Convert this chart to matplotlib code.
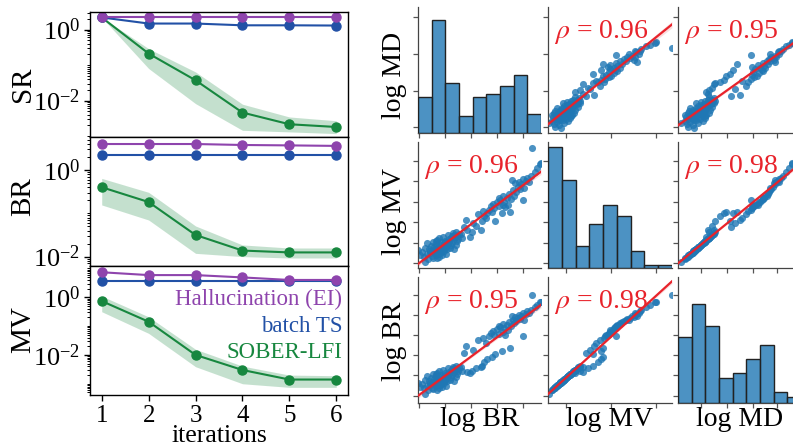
import numpy as np
import matplotlib
matplotlib.use("Agg")
import matplotlib.pyplot as plt
from matplotlib.ticker import LogLocator, NullFormatter, LogFormatterSciNotation

plt.rcParams['font.family'] = ['Liberation Serif', 'DejaVu Serif']
plt.rcParams['mathtext.fontset'] = 'stix'

# ---------------- data: left convergence panels ----------------
iterations = [1, 2, 3, 4, 5, 6]
methods = ['Hallucination (EI)', 'batch TS', 'SOBER-LFI']
method_colors = ['#8E44AD', '#2251A6', '#17873F']

sr_halluc = [2.2, 2.2, 2.2, 2.2, 2.2, 2.2]
sr_ts = [2.2, 1.48, 1.48, 1.32, 1.32, 1.30]
sr_sober = [2.2, 0.211, 0.0373, 0.00459, 0.00215, 0.0018]
sr_sober_lo = [2.2, 0.08, 0.0082, 0.00145, 0.00131, 0.00117]
sr_sober_hi = [2.2, 0.29, 0.064, 0.0079, 0.00345, 0.0027]

br_halluc = [3.98, 3.98, 3.98, 3.78, 3.7, 3.6]
br_ts = [2.22, 2.22, 2.22, 2.22, 2.22, 2.22]
br_sober = [0.40, 0.182, 0.0316, 0.0138, 0.0125, 0.0125]
br_sober_lo = [0.156, 0.070, 0.0119, 0.010, 0.0093, 0.0093]
br_sober_hi = [0.64, 0.305, 0.051, 0.0186, 0.0158, 0.0158]

mv_halluc = [7.4, 5.9, 5.9, 4.9, 4.0, 4.0]
mv_ts = [3.77, 3.77, 3.77, 3.77, 3.77, 3.77]
mv_sober = [0.74, 0.142, 0.010, 0.0030, 0.0014, 0.0014]
mv_sober_lo = [0.316, 0.056, 0.0039, 0.0010, 0.00075, 0.00075]
mv_sober_hi = [1.1, 0.21, 0.0157, 0.0041, 0.0020, 0.0019]

panel_names = ['SR', 'BR', 'MV']

# ---------------- data: pair plot (arbitrary log units) ----------------
log_br = [0.0, 0.15, 0.3, 0.45, 0.55, 0.6, 0.7, 0.76, 0.85, 0.9, 1.0, 1.05, 1.1, 1.15, 1.2, 1.25,
          1.3, 1.35, 1.4, 1.44, 1.5, 1.52, 1.55, 1.57, 1.6, 1.65, 1.7, 1.72, 1.75, 1.8, 1.84, 1.88,
          1.9, 1.95, 2.0, 2.05, 2.1, 2.12, 2.15, 2.2, 2.25, 2.3, 2.35, 2.4, 2.45, 2.5, 2.55, 2.6,
          2.65, 2.7, 2.75, 2.8, 2.85, 2.9, 2.92, 2.95, 3.0, 3.05, 3.1, 3.15, 3.2, 3.25, 3.3, 3.47,
          3.6, 1.3, 1.6, 1.78, 2.0, 1.45, 0.95, 2.28,
          3.7, 3.88, 4.0, 4.2, 4.4, 4.5, 4.7, 4.9, 5.1, 5.2, 5.3, 5.4, 5.5, 5.6, 5.75, 5.9, 6.0,
          6.1, 6.2, 6.3, 6.45, 6.55, 6.6, 6.7, 6.8, 6.9, 6.95, 7.0, 7.1, 7.2, 7.3, 7.4, 7.5, 7.55,
          7.67, 7.75, 7.8, 7.9, 8.0, 8.1, 8.2, 8.3, 8.4, 8.5, 8.55, 8.65, 8.8, 8.9, 9.0, 9.16,
          9.3, 9.5, 9.7, 9.9, 10.0]
log_mv = [1.07, 0.60, 0.9, 0.45, 1.25, 0.05, 0.7, 1.65, 0.3, 1.2, 0.78, 1.45, 0.55, 1.0, 1.8, 0.4,
          1.37, 0.85, 1.15, 0.64, 1.6, 0.35, 1.0, 1.95, 0.75, 1.3, 2.1, 0.5, 1.1, 1.5, 1.07, 0.9,
          1.75, 0.6, 1.3, 2.2, 1.65, 0.95, 1.45, 1.9, 1.37, 0.7, 1.15, 2.4, 1.6, 1.8, 2.0, 1.25,
          2.1, 1.5, 2.3, 1.7, 2.55, 2.4, 1.2, 2.0, 2.2, 1.55, 2.6, 1.85, 2.3, 2.05, 2.45, 2.5,
          2.15, 0.95, 1.2, 0.8, 1.05, 1.85, 1.0, 1.75,
          3.1, 3.7, 2.8, 2.2, 2.6, 3.4, 3.2, 4.2, 2.8, 3.6, 4.5, 4.0, 3.9, 4.3, 4.6, 4.9, 4.4,
          5.1, 4.7, 3.6, 5.3, 4.9, 5.6, 5.4, 4.3, 5.0, 5.8, 5.3, 4.8, 5.6, 5.0, 6.0, 4.4, 5.5,
          7.2, 6.3, 5.8, 6.9, 6.1, 6.6, 7.0, 6.4, 6.8, 5.45, 7.3, 6.5, 7.1, 7.4, 7.0, 7.5,
          10.0, 7.9, 8.2, 8.6, 8.7]
log_md = [1.30, 0.85, 1.2, 0.75, 1.6, 0.25, 1.0, 2.0, 0.55, 1.5, 1.1, 1.8, 0.8, 1.3, 2.2, 0.65,
          1.7, 1.2, 1.5, 0.95, 1.95, 0.6, 1.35, 2.3, 1.05, 1.65, 2.5, 0.8, 1.4, 1.85, 1.35, 1.2,
          2.1, 0.9, 1.6, 2.6, 2.0, 1.25, 1.8, 2.25, 1.7, 1.0, 1.5, 2.8, 1.95, 2.2, 2.4, 1.6,
          2.5, 1.85, 2.7, 2.1, 2.9, 2.8, 1.5, 2.35, 2.6, 1.9, 3.0, 2.2, 2.7, 2.45, 2.85, 2.9,
          2.5, 1.25, 1.55, 1.1, 1.4, 2.2, 1.3, 2.1,
          4.3, 5.0, 2.4, 2.3, 2.5, 4.6, 2.8, 5.5, 2.9, 3.0, 5.7, 3.4, 5.2, 3.7, 5.9, 6.2, 3.9,
          6.4, 6.0, 4.2, 6.6, 6.1, 6.9, 6.8, 4.5, 6.3, 7.1, 6.7, 6.0, 7.0, 6.5, 7.3, 4.8, 6.9,
          7.9, 7.5, 7.2, 7.8, 7.4, 7.7, 8.0, 7.6, 7.9, 5.9, 8.2, 7.5, 8.1, 8.4, 8.2, 8.5,
          10.0, 8.8, 9.0, 9.3, 9.3]

hist_br = [13, 41, 18, 6, 13, 14, 17, 21, 7]
hist_mv = [44, 32, 8, 16, 23, 19, 6, 1, 1]
hist_md = [24, 36, 28, 9, 11, 16, 21, 4, 2]

rho_values = {(0, 1): 0.96, (1, 0): 0.96, (0, 2): 0.95, (2, 0): 0.95, (1, 2): 0.98, (2, 1): 0.98}
col_labels = ['log BR', 'log MV', 'log MD']
row_labels = ['log MD', 'log MV', 'log BR']

# ---------------- figure ----------------
W, H = 793, 448
fig = plt.figure(figsize=(W / 100, H / 100), dpi=100)


def px_axes(x0, y0, x1, y1):
    return fig.add_axes([x0 / W, 1 - y1 / H, (x1 - x0) / W, (y1 - y0) / H])


left_boxes = [(90, 12, 348, 137), (90, 137, 348, 266), (90, 266, 348, 395)]
left_ylims = [(9.4e-4, 3.13), (0.00607, 5.78), (4.07e-4, 12.2)]
left_label_y = [0.424, 0.539, 0.504]
series = [
    (sr_halluc, sr_ts, sr_sober, sr_sober_lo, sr_sober_hi),
    (br_halluc, br_ts, br_sober, br_sober_lo, br_sober_hi),
    (mv_halluc, mv_ts, mv_sober, mv_sober_lo, mv_sober_hi),
]

for k, (box, ylim, name, data) in enumerate(zip(left_boxes, left_ylims, panel_names, series)):
    ax = px_axes(*box)
    hal, ts, sob, lo, hi = data
    ax.fill_between(iterations, lo, hi, color=method_colors[2], alpha=0.25, lw=0)
    ax.plot(iterations, sob, '-o', color=method_colors[2], ms=6.5, lw=1.5)
    ax.plot(iterations, ts, '-o', color=method_colors[1], ms=6.5, lw=1.5)
    ax.plot(iterations, hal, '-o', color=method_colors[0], ms=6.5, lw=1.5)
    ax.set_yscale('log')
    ax.set_ylim(*ylim)
    ax.set_xlim(0.75, 6.25)
    ax.yaxis.set_major_locator(LogLocator(base=100.0))
    ax.yaxis.set_major_formatter(LogFormatterSciNotation(base=10))
    ax.yaxis.set_minor_locator(LogLocator(base=10.0, subs=np.arange(1, 10), numticks=30))
    ax.yaxis.set_minor_formatter(NullFormatter())
    ax.tick_params(axis='y', which='major', length=4, width=1, labelsize=19, direction='out',
                   pad=3)
    ax.tick_params(axis='y', which='minor', length=2, width=0.7, direction='out')
    for sp in ax.spines.values():
        sp.set_color('black')
        sp.set_linewidth(1.0)
    ax.set_ylabel(name, fontsize=21)
    ax.yaxis.set_label_coords(-0.21, left_label_y[k])
    if k < 2:
        ax.set_xticks([])
    else:
        ax.set_xticks(iterations)
        ax.tick_params(axis='x', length=4, width=1, labelsize=18)
        ax.set_xlabel('iterations', fontsize=18.5)
        ax.xaxis.set_label_coords(0.5, -0.235)
        legend_y = [0.698, 0.491, 0.284]
        for name_m, col, yy in zip(methods, method_colors, legend_y):
            ax.text(0.977, yy, name_m, color=col, fontsize=16.5, ha='right', va='baseline',
                    transform=ax.transAxes)

# ---------------- pair plot ----------------
variables = [np.array(log_br), np.array(log_mv), np.array(log_md)]
hists = [hist_br, hist_mv, hist_md]
col_px = [(418, 541), (548, 672), (678, 801)]
row_px = [(7, 133), (142, 268), (277, 403)]
row_ylims = [(-0.58, 14.07), (-0.5, 10.5), (-0.69, 11.78)]
col_ticks = [[0.1, 2.2, 4.3, 6.4, 8.5], [1.45, 5.08, 8.69], [1.87, 3.98, 6.1, 8.05]]
row_ticks = [[0.12, 4.3, 8.6, 12.9], [-0.03, 1.71, 3.52, 5.29, 7.07, 8.87],
             [0.0, 2.08, 4.06, 6.04, 8.0, 10.0]]
row_label_y = [0.46, 0.45, 0.49]
bin_edges = np.linspace(0, 10, 10)
bar_color = (31 / 255, 119 / 255, 180 / 255, 0.8)
red = '#E8232B'

for i in range(3):
    for j in range(3):
        x0, x1 = col_px[j]
        y0, y1 = row_px[i]
        ax = px_axes(x0, y0, x1, y1)
        ax.set_xlim(0, 10)
        ax.set_ylim(*row_ylims[i])
        if i == j:
            hx = ax.twinx()
            hx.bar(bin_edges[:-1], hists[i], width=np.diff(bin_edges), align='edge',
                   color=bar_color, edgecolor='#222222', linewidth=1.0)
            hx.set_ylim(0, 45.8)
            hx.set_xlim(0, 10)
            hx.set_axis_off()
        else:
            x = variables[j]
            y = variables[i]
            ax.scatter(x, y, s=26, color='#1f77b4', alpha=0.8, linewidths=0, zorder=2)
            b, a = np.polyfit(x, y, 1)
            xs = np.linspace(0, 10, 100)
            yhat = a + b * xs
            n = len(x)
            resid = y - (a + b * x)
            s = np.sqrt(np.sum(resid ** 2) / (n - 2))
            se = s * np.sqrt(1 / n + (xs - x.mean()) ** 2 / np.sum((x - x.mean()) ** 2))
            ax.fill_between(xs, yhat - 1.96 * se, yhat + 1.96 * se, color=red, alpha=0.15, lw=0,
                            zorder=3)
            ax.plot(xs, yhat, color=red, lw=1.6, zorder=4)
            ax.text(0.05, 0.757, r'$\rho$ = %.2f' % rho_values[(i, j)], color=red, fontsize=20,
                    ha='left', va='baseline', transform=ax.transAxes, zorder=5)
        ax.set_xticks(col_ticks[j])
        ax.set_yticks(row_ticks[i])
        ax.set_xticklabels([])
        ax.set_yticklabels([])
        ax.tick_params(length=3.5, width=0.9, color='#555555')
        for side in ['top', 'right']:
            ax.spines[side].set_visible(False)
        for side in ['left', 'bottom']:
            ax.spines[side].set_color('#444444')
            ax.spines[side].set_linewidth(0.9)
        if j == 0:
            ax.set_ylabel(row_labels[i], fontsize=20)
            ax.yaxis.set_label_coords(-0.092, row_label_y[i])
        if i == 2:
            ax.set_xlabel(col_labels[j], fontsize=20)
            ax.xaxis.set_label_coords(0.5, -0.03)

fig.savefig('out.png', dpi=100)
